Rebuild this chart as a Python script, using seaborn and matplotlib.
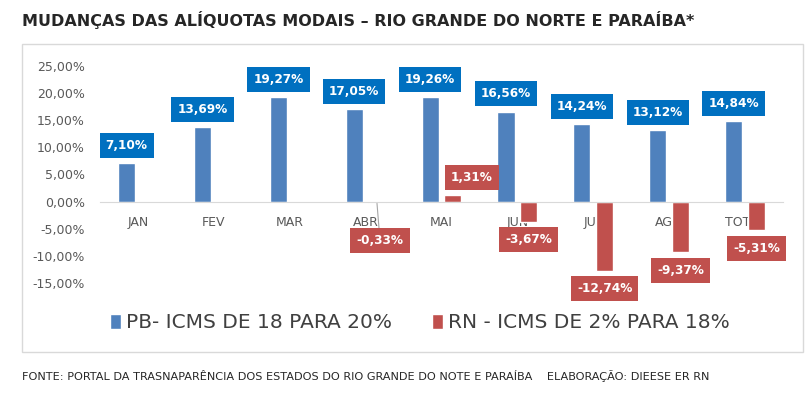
import matplotlib
matplotlib.use("Agg")
import matplotlib.pyplot as plt
import matplotlib.patches as mpatches
from matplotlib.ticker import FuncFormatter, MultipleLocator
import pandas as pd
import seaborn as sns

# dados
meses = ["JAN", "FEV", "MAR", "ABR", "MAI", "JUN", "JUL", "AGO", "TOTAL"]
pb = [7.10, 13.69, 19.27, 17.05, 19.26, 16.56, 14.24, 13.12, 14.84]
rn = [None, None, None, -0.33, 1.31, -3.67, -12.74, -9.37, -5.31]
serie_pb = "PB- ICMS DE 18 PARA 20%"
serie_rn = "RN - ICMS DE 2% PARA 18%"

cor_barra = {serie_pb: "#4F81BD", serie_rn: "#C0504D"}
cor_rotulo = {serie_pb: "#0070C0", serie_rn: "#C0504D"}

df = pd.DataFrame({"mes": meses, serie_pb: pb, serie_rn: rn})
df = df.melt(id_vars="mes", var_name="serie", value_name="valor")
df["valor"] = df["valor"] / 100

sns.set_style("white")
plt.rcParams["font.family"] = ["DejaVu Sans"]

fig = plt.figure(figsize=(8.12, 3.94), dpi=100)
ax = fig.add_axes([100 / 812, 1 - 283 / 394, 683 / 812, 217 / 394])

sns.barplot(data=df, x="mes", y="valor", hue="serie", order=meses,
            hue_order=[serie_pb, serie_rn], palette=cor_barra, saturation=1,
            width=0.6, gap=0.25, ax=ax, legend=True)

ax.set_ylim(-0.15, 0.25)
ax.set_xlim(-0.5, len(meses) - 0.5)
ax.yaxis.set_major_locator(MultipleLocator(0.05))
ax.yaxis.set_major_formatter(
    FuncFormatter(lambda v, p: f"{v * 100:.2f}".replace(".", ",") + "%"))
ax.set_xlabel("")
ax.set_ylabel("")
ax.set_axisbelow(True)
for s in ["left", "right", "top"]:
    ax.spines[s].set_visible(False)
ax.spines["bottom"].set_position(("data", 0))
ax.spines["bottom"].set_color("#D9D9D9")
ax.tick_params(axis="y", length=0, pad=11, labelsize=9, labelcolor="#595959")
ax.tick_params(axis="x", length=0, pad=10, labelsize=9, labelcolor="#595959")

# deslocamentos especiais dos rótulos (pixels)
desloc = {(serie_rn, "ABR"): (3, -37), (serie_rn, "MAI"): (19, 17)}

for cont, serie in zip(ax.containers, [serie_pb, serie_rn]):
    for bar in cont:
        x = bar.get_x() + bar.get_width() / 2
        mes = meses[int(round(x))]
        v = df[(df["serie"] == serie) & (df["mes"] == mes)]["valor"].iloc[0]
        if pd.isna(v):
            continue
        dx, dy = desloc.get((serie, mes), (0, 18 if v > 0 else -18))
        txt = f"{v * 100:.2f}".replace(".", ",") + "%"
        seta = None
        if (serie, mes) == (serie_rn, "ABR"):
            seta = dict(arrowstyle="-", color="#A6A6A6", lw=0.8,
                        shrinkA=0, shrinkB=0)
        ax.annotate(txt, (x, v), xytext=(dx * 0.72, dy * 0.72),
                    textcoords="offset points", ha="center", va="center",
                    fontsize=8.7, fontweight="bold", color="white",
                    annotation_clip=False, arrowprops=seta,
                    bbox=dict(boxstyle="square,pad=0.5",
                              fc=cor_rotulo[serie], ec="none"))

handles, labels = ax.get_legend_handles_labels()
ax.get_legend().remove()
fig.legend(handles, labels, loc="center", bbox_to_anchor=(420 / 812, 1 - 323 / 394),
           ncol=2, frameon=False, fontsize=14.5, handlelength=0.55,
           handleheight=0.7, handletextpad=0.25, columnspacing=2.0,
           labelcolor="#404040")

# moldura do gráfico
fig.patches.append(mpatches.Rectangle((22 / 812, 1 - 352 / 394), 781 / 812, 308 / 394,
                                      transform=fig.transFigure, fill=False,
                                      ec="#D9D9D9", lw=1, zorder=0))

fig.text(22 / 812, 1 - 20 / 394,
         "MUDANÇAS DAS ALÍQUOTAS MODAIS – RIO GRANDE DO NORTE E PARAÍBA*",
         ha="left", va="center", fontsize=11.5, fontweight="bold", color="#262626")
fig.text(22 / 812, 1 - 376 / 394,
         "FONTE: PORTAL DA TRASNAPARÊNCIA DOS ESTADOS DO RIO GRANDE DO NOTE E PARAÍBA"
         "    ELABORAÇÃO: DIEESE ER RN",
         ha="left", va="center", fontsize=8.1, color="#262626")

fig.savefig("out.png", dpi=100)
